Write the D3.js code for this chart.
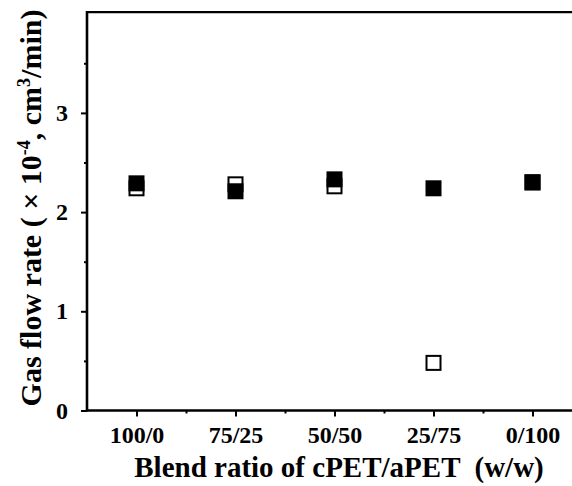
<!DOCTYPE html>
<html>
<head>
<meta charset="utf-8">
<script src="https://cdn.jsdelivr.net/npm/d3@7"></script>
<style>
  body { margin: 0; background: #fff; }
  svg { display: block; }
  text { font-family: "Liberation Serif", "Times New Roman", serif; font-weight: bold; fill: #000; }
</style>
</head>
<body>
<svg id="chart" width="572" height="486"></svg>
<script>
  var categories = ["100/0", "75/25", "50/50", "25/75", "0/100"];
  var filledValues = [2.29, 2.21, 2.33, 2.24, 2.30];
  var openValues = [2.24, 2.28, 2.26, 0.48, 2.30];
  var yTicks = [0, 1, 2, 3];
  var yMinorTicks = [0.5, 1.5, 2.5, 3.5];

  var svg = d3.select("#chart");
  var margin = { top: 14, left: 87, bottom: 76 };

  // x: category index, frame runs from -0.5 to 4.5 (cropped on the right)
  var xScale = d3.scaleLinear()
    .domain([-0.5, 4.5])
    .range([margin.left, margin.left + 5 * 99]);

  var yScale = d3.scaleLinear()
    .domain([0, 4])
    .range([410.5, 410.5 - 4 * 99.2]);

  var g = svg.append("g");

  // top frame line
  g.append("line")
    .attr("x1", xScale(-0.5)).attr("x2", 600)
    .attr("y1", yScale(4) - 1.5).attr("y2", yScale(4) - 1.5)
    .attr("stroke", "#000").attr("stroke-width", 2.2);

  // x axis
  var xAxis = d3.axisBottom(xScale)
    .tickValues(d3.range(0, 5))
    .tickFormat(function (i) { return categories[i]; })
    .tickSizeInner(6).tickSizeOuter(0).tickPadding(10);
  var xAxisG = g.append("g")
    .attr("transform", "translate(0," + yScale(0) + ")")
    .call(xAxis);
  xAxisG.select(".domain").attr("stroke-width", 2.6).attr("d", "M" + xScale(-0.5) + ",0H600");
  xAxisG.selectAll(".tick line").attr("stroke-width", 2);
  xAxisG.selectAll(".tick text").style("font-size", "24px").attr("dy", "0.68em");

  var xMinor = d3.axisBottom(xScale)
    .tickValues([0.5, 1.5, 2.5, 3.5])
    .tickFormat("").tickSizeInner(3).tickSizeOuter(0);
  g.append("g")
    .attr("transform", "translate(0," + yScale(0) + ")")
    .call(xMinor)
    .call(function (a) { a.select(".domain").remove(); a.selectAll(".tick line").attr("stroke-width", 2); });

  // y axis
  var yAxis = d3.axisLeft(yScale)
    .tickValues(yTicks)
    .tickFormat(d3.format("d"))
    .tickSizeInner(6).tickSizeOuter(0).tickPadding(13);
  var yAxisG = g.append("g")
    .attr("transform", "translate(" + xScale(-0.5) + ",0)")
    .call(yAxis);
  yAxisG.select(".domain").attr("stroke-width", 2.6)
    .attr("d", "M0," + (yScale(0) + 1) + "V" + (yScale(4) - 2.6));
  yAxisG.selectAll(".tick line").attr("stroke-width", 2);
  yAxisG.selectAll(".tick text").style("font-size", "24px");

  var yMinor = d3.axisLeft(yScale)
    .tickValues(yMinorTicks)
    .tickFormat("").tickSizeInner(3).tickSizeOuter(0);
  g.append("g")
    .attr("transform", "translate(" + xScale(-0.5) + ",0)")
    .call(yMinor)
    .call(function (a) { a.select(".domain").remove(); a.selectAll(".tick line").attr("stroke-width", 2); });

  // markers: open first, filled on top
  var size = 16;
  g.selectAll("rect.open")
    .data(openValues)
    .enter().append("rect")
    .attr("class", "open")
    .attr("x", function (d, i) { return xScale(i) - size / 2 + 1; })
    .attr("y", function (d) { return yScale(d) - size / 2 + 1; })
    .attr("width", size - 2).attr("height", size - 2)
    .attr("fill", "#fff").attr("stroke", "#000").attr("stroke-width", 2);

  g.selectAll("rect.filled")
    .data(filledValues)
    .enter().append("rect")
    .attr("class", "filled")
    .attr("x", function (d, i) { return xScale(i) - size / 2; })
    .attr("y", function (d) { return yScale(d) - size / 2; })
    .attr("width", size).attr("height", size)
    .attr("fill", "#000");

  // axis titles
  svg.append("text")
    .attr("x", 339).attr("y", 477)
    .attr("text-anchor", "middle")
    .style("font-size", "29px")
    .attr("xml:space", "preserve")
    .text("Blend ratio of cPET/aPET  (w/w)");

  var yt = svg.append("text")
    .attr("transform", "translate(41,208) rotate(-90)")
    .attr("text-anchor", "middle")
    .style("font-size", "30px")
    .attr("xml:space", "preserve");
  yt.append("tspan").text("Gas flow rate ( \u00d7 10");
  yt.append("tspan").attr("dy", -11).style("font-size", "18px").text("-4");
  yt.append("tspan").attr("dy", 11).text(", cm");
  yt.append("tspan").attr("dy", -11).style("font-size", "18px").text("3");
  yt.append("tspan").attr("dy", 11).text("/min)");
</script>
</body>
</html>
